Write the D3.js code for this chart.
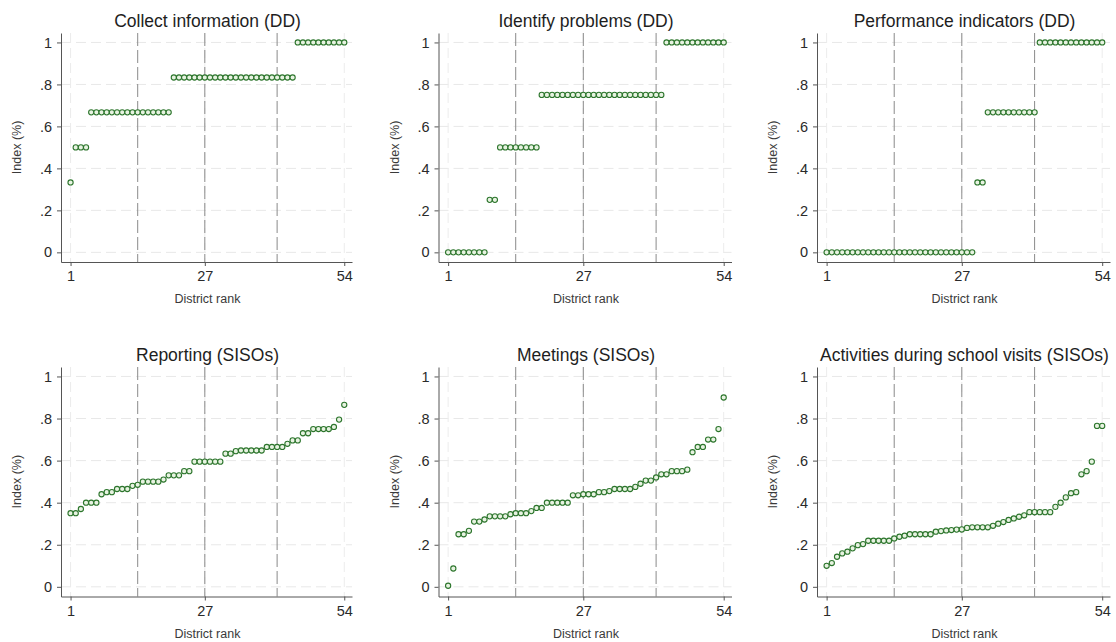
<!DOCTYPE html>
<html>
<head>
<meta charset="utf-8">
<script src="https://cdn.jsdelivr.net/npm/d3@7"></script>
<style>
  body { margin: 0; background: #fff; }
  svg { display: block; font-family: "Liberation Sans", Arial, sans-serif; }
</style>
</head>
<body>
<svg id="chart" width="1116" height="642"></svg>
<script>
// district ranks 1..54
var ranks = [
  1, 2, 3, 4, 5, 6, 7, 8, 9, 10, 11, 12, 13, 14, 15, 16, 17, 18,
  19, 20, 21, 22, 23, 24, 25, 26, 27, 28, 29, 30, 31, 32, 33, 34, 35, 36,
  37, 38, 39, 40, 41, 42, 43, 44, 45, 46, 47, 48, 49, 50, 51, 52, 53, 54
];

var collectInfo = [
  0.333, 0.5, 0.5, 0.5, 0.667, 0.667, 0.667, 0.667, 0.667, 0.667,
  0.667, 0.667, 0.667, 0.667, 0.667, 0.667, 0.667, 0.667, 0.667, 0.667,
  0.833, 0.833, 0.833, 0.833, 0.833, 0.833, 0.833, 0.833, 0.833, 0.833,
  0.833, 0.833, 0.833, 0.833, 0.833, 0.833, 0.833, 0.833, 0.833, 0.833,
  0.833, 0.833, 0.833, 0.833, 1, 1, 1, 1, 1, 1,
  1, 1, 1, 1
];

var identifyProblems = [
  0, 0, 0, 0, 0, 0, 0, 0, 0.25, 0.25,
  0.5, 0.5, 0.5, 0.5, 0.5, 0.5, 0.5, 0.5, 0.75, 0.75,
  0.75, 0.75, 0.75, 0.75, 0.75, 0.75, 0.75, 0.75, 0.75, 0.75,
  0.75, 0.75, 0.75, 0.75, 0.75, 0.75, 0.75, 0.75, 0.75, 0.75,
  0.75, 0.75, 1, 1, 1, 1, 1, 1, 1, 1,
  1, 1, 1, 1
];

var perfIndicators = [
  0, 0, 0, 0, 0, 0, 0, 0, 0, 0,
  0, 0, 0, 0, 0, 0, 0, 0, 0, 0,
  0, 0, 0, 0, 0, 0, 0, 0, 0, 0.333,
  0.333, 0.667, 0.667, 0.667, 0.667, 0.667, 0.667, 0.667, 0.667, 0.667,
  0.667, 1, 1, 1, 1, 1, 1, 1, 1, 1,
  1, 1, 1, 1
];

var reporting = [
  0.35, 0.35, 0.37, 0.40, 0.40, 0.40, 0.44, 0.45, 0.45, 0.465,
  0.465, 0.465, 0.48, 0.485, 0.50, 0.50, 0.50, 0.50, 0.51, 0.53,
  0.53, 0.53, 0.55, 0.55, 0.595, 0.595, 0.595, 0.595, 0.595, 0.595,
  0.633, 0.633, 0.645, 0.648, 0.648, 0.648, 0.648, 0.648, 0.665, 0.665,
  0.665, 0.665, 0.68, 0.696, 0.696, 0.73, 0.73, 0.75, 0.75, 0.75,
  0.75, 0.76, 0.795, 0.865
];

var meetings = [
  0.005, 0.087, 0.25, 0.25, 0.266, 0.31, 0.31, 0.32, 0.335, 0.335,
  0.335, 0.335, 0.345, 0.35, 0.35, 0.35, 0.36, 0.375, 0.375, 0.40,
  0.40, 0.40, 0.40, 0.40, 0.435, 0.435, 0.44, 0.44, 0.44, 0.45,
  0.45, 0.455, 0.465, 0.465, 0.465, 0.465, 0.475, 0.49, 0.505, 0.505,
  0.52, 0.535, 0.535, 0.55, 0.55, 0.55, 0.557, 0.64, 0.665, 0.665,
  0.70, 0.70, 0.75, 0.90
];

var activities = [
  0.10, 0.113, 0.143, 0.159, 0.167, 0.183, 0.198, 0.203, 0.219, 0.219,
  0.219, 0.219, 0.219, 0.23, 0.238, 0.243, 0.25, 0.25, 0.25, 0.25,
  0.25, 0.262, 0.265, 0.268, 0.27, 0.272, 0.273, 0.28, 0.283, 0.283,
  0.283, 0.283, 0.29, 0.30, 0.308, 0.318, 0.325, 0.333, 0.34, 0.355,
  0.355, 0.355, 0.355, 0.355, 0.38, 0.40, 0.425, 0.445, 0.45, 0.535,
  0.55, 0.595, 0.765, 0.765
];

var titles = [
  "Collect information (DD)", "Identify problems (DD)", "Performance indicators (DD)",
  "Reporting (SISOs)", "Meetings (SISOs)", "Activities during school visits (SISOs)"
];
var series = [collectInfo, identifyProblems, perfIndicators, reporting, meetings, activities];

var xTicks   = [1, 27, 54];
var yTicks   = [0, 0.2, 0.4, 0.6, 0.8, 1];
var refLines = [14, 27, 41];

// layout
var colLeft  = [61, 438.5, 817];
var colRight = [352, 731.5, 1110];
var rowTop   = [33, 367];
var rowBot   = [262, 596.5];

var svg = d3.select('#chart');

function fmtY(d) {
  if (d === 0) return "0";
  if (d === 1) return "1";
  return d3.format(".1f")(d).replace(/^0/, "");
}

series.forEach(function(vals, i) {
  var col = i % 3, row = Math.floor(i / 3);
  var L = colLeft[col], R = colRight[col];
  var T = rowTop[row], B = rowBot[row];

  var x = d3.scaleLinear().domain([-0.85, 55.5]).range([L, R]);
  var y = d3.scaleLinear().domain([-0.046, 1.045]).range([B, T]);

  var g = svg.append('g');

  // light grid
  g.selectAll('.hgrid')
    .data(yTicks)
    .enter()
    .append('line')
    .attr('x1', L).attr('x2', R)
    .attr('y1', function(d) { return y(d); })
    .attr('y2', function(d) { return y(d); })
    .attr('stroke', '#e8e8e8')
    .attr('stroke-dasharray', '10,5');

  g.selectAll('.vgrid')
    .data(xTicks)
    .enter()
    .append('line')
    .attr('x1', function(d) { return x(d); })
    .attr('x2', function(d) { return x(d); })
    .attr('y1', T).attr('y2', B)
    .attr('stroke', '#ececec')
    .attr('stroke-dasharray', '10,5');

  // reference lines
  g.selectAll('.ref')
    .data(refLines)
    .enter()
    .append('line')
    .attr('x1', function(d) { return x(d); })
    .attr('x2', function(d) { return x(d); })
    .attr('y1', T).attr('y2', B)
    .attr('stroke', '#8a8a8a')
    .attr('stroke-width', 1)
    .attr('stroke-dasharray', '13,4');

  // axes
  var ax = g.append('g')
    .attr('transform', 'translate(' + L + ',0)')
    .call(d3.axisLeft(y).tickValues(yTicks).tickFormat(fmtY)
      .tickSize(4).tickPadding(5).tickSizeOuter(0));

  var bx = g.append('g')
    .attr('transform', 'translate(0,' + B + ')')
    .call(d3.axisBottom(x).tickValues(xTicks).tickFormat(d3.format('d'))
      .tickSize(4).tickPadding(5).tickSizeOuter(0));

  [ax, bx].forEach(function(a) {
    a.select('.domain').attr('stroke', '#555');
    a.selectAll('.tick line').attr('stroke', '#555');
    a.selectAll('.tick text')
      .attr('fill', '#2a2a2a')
      .style('font-size', '14.5px')
      .style('font-family', '"Liberation Sans", Arial, sans-serif');
  });

  // markers
  g.selectAll('.pt')
    .data(vals)
    .enter()
    .append('circle')
    .attr('class', 'pt')
    .attr('cx', function(d, j) { return x(ranks[j]); })
    .attr('cy', function(d) { return y(d); })
    .attr('r', 2.6)
    .attr('fill', '#e8f3e2')
    .attr('stroke', '#2c752c')
    .attr('stroke-width', 1.1);

  // titles
  g.append('text')
    .attr('x', (L + R) / 2 + 1)
    .attr('y', T - 6.5)
    .attr('text-anchor', 'middle')
    .attr('fill', '#1e1e1e')
    .style('font-size', '17.5px')
    .text(titles[i]);

  g.append('text')
    .attr('x', (x(1) + x(54)) / 2)
    .attr('y', B + 41)
    .attr('text-anchor', 'middle')
    .attr('fill', '#3a3a3a')
    .style('font-size', '12.5px')
    .text('District rank');

  g.append('text')
    .attr('transform', 'translate(' + (L - 40) + ',' + ((y(0) + y(1)) / 2) + ') rotate(-90)')
    .attr('text-anchor', 'middle')
    .attr('fill', '#3a3a3a')
    .style('font-size', '12.5px')
    .text('Index (%)');
});
</script>
</body>
</html>
